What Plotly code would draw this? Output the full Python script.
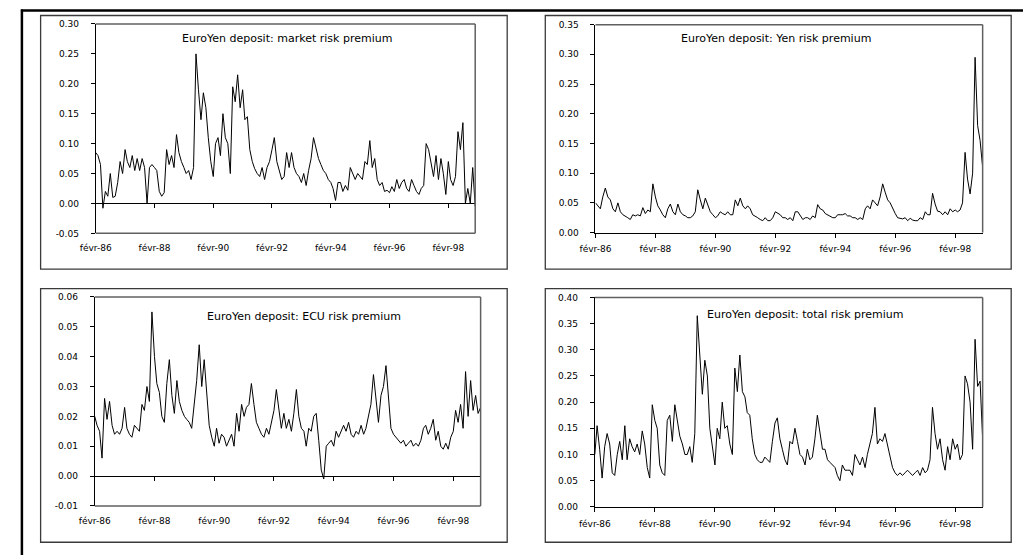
import pandas as pd
import plotly.graph_objects as go

W, H = 1023, 560

# ---------------- data (monthly, Feb 1986 - Jan 1999) ----------------
dates = pd.date_range("1986-02-01", periods=156, freq="MS")

market = [
    0.085, 0.08, 0.065, -0.008, 0.02, 0.012, 0.05, 0.01, 0.012, 0.035,
    0.07, 0.05, 0.09, 0.07, 0.06, 0.08, 0.055, 0.075, 0.055, 0.075,
    0.06, 0.0, 0.06, 0.065, 0.06, 0.055, 0.02, 0.012, 0.018, 0.09,
    0.065, 0.08, 0.06, 0.115, 0.085, 0.07, 0.06, 0.05, 0.055, 0.04,
    0.06, 0.25, 0.19, 0.14, 0.185, 0.16, 0.11, 0.07, 0.045, 0.10,
    0.11, 0.08, 0.15, 0.11, 0.10, 0.05, 0.195, 0.17, 0.215, 0.16,
    0.19, 0.14, 0.145, 0.09, 0.07, 0.058, 0.05, 0.045, 0.06, 0.04,
    0.06, 0.07, 0.09, 0.11, 0.07, 0.055, 0.04, 0.045, 0.085, 0.06,
    0.085, 0.06, 0.05, 0.045, 0.035, 0.05, 0.03, 0.055, 0.075, 0.11,
    0.09, 0.075, 0.065, 0.055, 0.05, 0.04, 0.035, 0.025, 0.005, 0.035,
    0.035, 0.02, 0.03, 0.022, 0.06, 0.05, 0.04, 0.05, 0.045, 0.04,
    0.07, 0.065, 0.105, 0.06, 0.075, 0.04, 0.03, 0.035, 0.02, 0.022,
    0.018, 0.028, 0.02, 0.04, 0.025, 0.035, 0.04, 0.025, 0.02, 0.04,
    0.03, 0.02, 0.015, 0.025, 0.03, 0.10, 0.09, 0.07, 0.045, 0.08,
    0.04, 0.075, 0.05, 0.015, 0.07, 0.04, 0.03, 0.045, 0.12, 0.09,
    0.135, 0.0, 0.025, 0.0, 0.06, -0.005,
]

yen = [
    0.05, 0.045, 0.04, 0.06, 0.075, 0.06, 0.055, 0.04, 0.035, 0.05,
    0.035, 0.03, 0.028, 0.025, 0.022, 0.03, 0.028, 0.03, 0.028, 0.042,
    0.032, 0.038, 0.035, 0.082, 0.06, 0.045, 0.038, 0.03, 0.025, 0.04,
    0.048, 0.035, 0.03, 0.048, 0.035, 0.03, 0.028, 0.025, 0.025, 0.028,
    0.035, 0.072, 0.055, 0.04, 0.058, 0.045, 0.035, 0.03, 0.025, 0.028,
    0.035, 0.032, 0.03, 0.035, 0.03, 0.03, 0.055, 0.045, 0.058, 0.045,
    0.04, 0.045, 0.04, 0.03, 0.028, 0.025, 0.022, 0.02, 0.025, 0.02,
    0.02, 0.025, 0.035, 0.032, 0.03, 0.025, 0.025, 0.022, 0.025, 0.02,
    0.035, 0.035, 0.028, 0.022, 0.025, 0.025, 0.022, 0.028, 0.025, 0.047,
    0.04, 0.038, 0.032, 0.03, 0.028, 0.025, 0.025, 0.03, 0.03, 0.03,
    0.032, 0.028, 0.028, 0.025, 0.025, 0.022, 0.025, 0.022, 0.04, 0.045,
    0.04, 0.055, 0.05, 0.045, 0.06, 0.082, 0.068, 0.055, 0.05, 0.04,
    0.032, 0.025, 0.024, 0.023, 0.025, 0.02, 0.024, 0.021, 0.02, 0.02,
    0.025, 0.022, 0.035, 0.03, 0.03, 0.066, 0.048, 0.036, 0.035, 0.03,
    0.035, 0.03, 0.04, 0.035, 0.038, 0.035, 0.038, 0.05, 0.135, 0.09,
    0.065, 0.10, 0.295, 0.18, 0.155, 0.11,
]

ecu = [
    0.020, 0.017, 0.015, 0.006, 0.026, 0.019, 0.025, 0.017, 0.014, 0.015,
    0.014, 0.016, 0.023, 0.016, 0.014, 0.013, 0.017, 0.016, 0.015, 0.024,
    0.022, 0.030, 0.025, 0.055, 0.040, 0.031, 0.028, 0.020, 0.018, 0.031,
    0.039, 0.027, 0.021, 0.032, 0.025, 0.022, 0.020, 0.019, 0.018, 0.016,
    0.025, 0.032, 0.044, 0.030, 0.039, 0.027, 0.017, 0.013, 0.010, 0.016,
    0.011, 0.014, 0.013, 0.010, 0.012, 0.014, 0.010, 0.021, 0.015, 0.024,
    0.020, 0.023, 0.024, 0.031, 0.024, 0.018, 0.016, 0.014, 0.013, 0.016,
    0.014, 0.018, 0.022, 0.029, 0.023, 0.016, 0.021, 0.016, 0.019, 0.015,
    0.021, 0.029, 0.020, 0.016, 0.015, 0.010, 0.016, 0.015, 0.020, 0.021,
    0.012, 0.002, -0.001, 0.010, 0.011, 0.012, 0.010, 0.015, 0.013, 0.015,
    0.017, 0.015, 0.018, 0.014, 0.013, 0.015, 0.014, 0.017, 0.014, 0.016,
    0.020, 0.024, 0.034, 0.025, 0.018, 0.027, 0.030, 0.037, 0.025, 0.016,
    0.014, 0.013, 0.012, 0.011, 0.012, 0.010, 0.011, 0.012, 0.010, 0.011,
    0.010, 0.012, 0.016, 0.017, 0.014, 0.016, 0.019, 0.012, 0.015, 0.010,
    0.009, 0.011, 0.009, 0.013, 0.015, 0.022, 0.018, 0.024, 0.016, 0.035,
    0.020, 0.032, 0.022, 0.027, 0.021, 0.023,
]

total = [
    0.10, 0.155, 0.11, 0.055, 0.115, 0.14, 0.12, 0.065, 0.06, 0.10,
    0.125, 0.09, 0.155, 0.09, 0.13, 0.115, 0.105, 0.12, 0.10, 0.145,
    0.12, 0.075, 0.055, 0.195, 0.165, 0.15, 0.08, 0.065, 0.06, 0.165,
    0.175, 0.125, 0.195, 0.16, 0.135, 0.12, 0.10, 0.10, 0.115, 0.085,
    0.14, 0.365, 0.28, 0.215, 0.28, 0.25, 0.15, 0.11, 0.08, 0.15,
    0.13, 0.20, 0.15, 0.155, 0.12, 0.10, 0.265, 0.22, 0.29, 0.22,
    0.21, 0.18, 0.175, 0.13, 0.10, 0.09, 0.085, 0.085, 0.095, 0.09,
    0.085, 0.125, 0.16, 0.17, 0.13, 0.11, 0.09, 0.08, 0.125, 0.12,
    0.15, 0.125, 0.10, 0.095, 0.08, 0.11, 0.09, 0.095, 0.13, 0.175,
    0.14, 0.11, 0.11, 0.09, 0.085, 0.08, 0.075, 0.06, 0.05, 0.08,
    0.07, 0.07, 0.07, 0.06, 0.10, 0.09, 0.08, 0.095, 0.075, 0.10,
    0.12, 0.14, 0.19, 0.12, 0.13, 0.125, 0.14, 0.12, 0.095, 0.075,
    0.065, 0.06, 0.065, 0.06, 0.065, 0.07, 0.065, 0.06, 0.065, 0.07,
    0.06, 0.075, 0.065, 0.07, 0.09, 0.19, 0.14, 0.11, 0.13, 0.09,
    0.07, 0.115, 0.09, 0.13, 0.11, 0.12, 0.09, 0.10, 0.25, 0.235,
    0.20, 0.11, 0.32, 0.23, 0.24, 0.13,
]

x_tick_dates = ["1986-02-01", "1988-02-01", "1990-02-01", "1992-02-01",
                "1994-02-01", "1996-02-01", "1998-02-01"]
x_tick_labels = ["févr-86", "févr-88", "févr-90", "févr-92",
                 "févr-94", "févr-96", "févr-98"]

titles = ["EuroYen deposit: market risk premium",
          "EuroYen deposit: Yen risk premium",
          "EuroYen deposit: ECU risk premium",
          "EuroYen deposit: total risk premium"]

y_ticks_market = [-0.05, 0.00, 0.05, 0.10, 0.15, 0.20, 0.25, 0.30]
y_ticks_yen = [0.00, 0.05, 0.10, 0.15, 0.20, 0.25, 0.30, 0.35]
y_ticks_ecu = [-0.01, 0.00, 0.01, 0.02, 0.03, 0.04, 0.05, 0.06]
y_ticks_total = [0.00, 0.05, 0.10, 0.15, 0.20, 0.25, 0.30, 0.35, 0.40]

# ---------------- layout helpers ----------------
def px(x):
    return x / W


def py(y):
    return 1 - y / H


FONT = "DejaVu Sans"
TICK_FONT = dict(family=FONT, size=9, color="black")
FRAME = dict(color="#606060", width=1.5)

panels = [
    # series, yticks, plot area (left, top, right, bottom) px, title centre px, chart box px
    dict(y=market, yt=y_ticks_market, area=(81, 19.3, 466.5, 232.5), tc=(275, 34),
         box=(25, 10.7, 499, 269)),
    dict(y=yen, yt=y_ticks_yen, area=(588.7, 20, 982, 231.7), tc=(772, 34),
         box=(537.7, 10.7, 1011, 269)),
    dict(y=ecu, yt=y_ticks_ecu, area=(80, 297.3, 472, 510), tc=(293, 317),
         box=(25, 288.7, 499, 547)),
    dict(y=total, yt=y_ticks_total, area=(588, 297.7, 982, 511), tc=(802, 315),
         box=(537.7, 288.7, 1011, 547)),
]

fig = go.Figure()
layout = dict(
    width=W, height=H,
    margin=dict(l=0, r=0, t=0, b=0),
    paper_bgcolor="white", plot_bgcolor="rgba(0,0,0,0)",
    showlegend=False, hovermode=False,
    font=dict(family=FONT, color="black"),
    shapes=[], annotations=[],
)

xrange = [dates[0], dates[-1]]
extra = 5
for i, p in enumerate(panels, start=1):
    l, t, r, b = p["area"]
    xd = [px(l), px(r)]
    yd = [py(b), py(t)]
    yt = p["yt"]
    yr = [yt[0], yt[-1]]
    xs = "" if i == 1 else str(i)
    has_neg = yt[0] < 0

    fig.add_trace(go.Scatter(x=dates, y=p["y"], mode="lines",
                             line=dict(color="black", width=1),
                             xaxis="x" + xs, yaxis="y" + xs))

    layout["xaxis" + xs] = dict(
        domain=xd, anchor="y" + xs, range=xrange, type="date",
        tickvals=x_tick_dates, ticktext=x_tick_labels,
        showgrid=False, zeroline=False,
        showline=not has_neg, linecolor="black", linewidth=1,
        ticks="" if has_neg else "outside", ticklen=4, tickcolor="black",
        tickfont=TICK_FONT, ticklabelstandoff=4 if not has_neg else 8,
    )
    layout["yaxis" + xs] = dict(
        domain=yd, anchor="x" + xs, range=yr,
        tickvals=yt, ticktext=[f"{v:.2f}" for v in yt],
        showgrid=False, zeroline=False,
        showline=True, linecolor="black", linewidth=1,
        ticks="outside", ticklen=4, tickcolor="black",
        tickfont=TICK_FONT, ticklabelstandoff=10,
    )

    if has_neg:
        # horizontal axis drawn at the zero value, with tick marks
        zero_frac = (0 - yr[0]) / (yr[1] - yr[0])
        pos = yd[0] + zero_frac * (yd[1] - yd[0])
        name = str(extra)
        fig.add_trace(go.Scatter(x=[], y=[], mode="lines",
                                 xaxis="x" + name, yaxis="y" + xs))
        layout["xaxis" + name] = dict(
            domain=xd, overlaying="x" + xs, anchor="free", position=pos,
            range=xrange, type="date", tickvals=x_tick_dates,
            showticklabels=False, showgrid=False, zeroline=False,
            showline=True, linecolor="black", linewidth=1,
            ticks="outside", ticklen=4, tickcolor="black",
        )
        extra += 1

    # grey plot-area frame: top, right (and bottom when the axis sits at zero)
    layout["shapes"].append(dict(type="line", xref="paper", yref="paper",
                                 x0=xd[0], x1=xd[1], y0=yd[1], y1=yd[1],
                                 line=FRAME, layer="above"))
    layout["shapes"].append(dict(type="line", xref="paper", yref="paper",
                                 x0=xd[1], x1=xd[1], y0=yd[0], y1=yd[1],
                                 line=FRAME, layer="above"))
    if has_neg:
        layout["shapes"].append(dict(type="line", xref="paper", yref="paper",
                                     x0=xd[0], x1=xd[1], y0=yd[0], y1=yd[0],
                                     line=FRAME, layer="above"))
    # chart box
    bl, bt, br, bb = p["box"]
    layout["shapes"].append(dict(
        type="rect", xref="paper", yref="paper",
        x0=px(bl), x1=px(br), y0=py(bb), y1=py(bt),
        line=dict(color="#3a3a3a", width=1.3), layer="below"))
    # title inside the plot area
    layout["annotations"].append(dict(
        text=titles[i - 1], xref="paper", yref="paper",
        x=px(p["tc"][0]), y=py(p["tc"][1]), xanchor="center", yanchor="middle",
        showarrow=False, font=dict(family=FONT, size=11, color="black")))

# outer page frame lines (top and left)
layout["shapes"].append(dict(type="line", xref="paper", yref="paper",
                             x0=px(5), x1=1, y0=py(5.5), y1=py(5.5),
                             line=dict(color="black", width=2.5)))
layout["shapes"].append(dict(type="line", xref="paper", yref="paper",
                             x0=px(6), x1=px(6), y0=0, y1=py(4.5),
                             line=dict(color="black", width=2.5)))

fig.update_layout(**layout)
fig.write_html("out.html")
